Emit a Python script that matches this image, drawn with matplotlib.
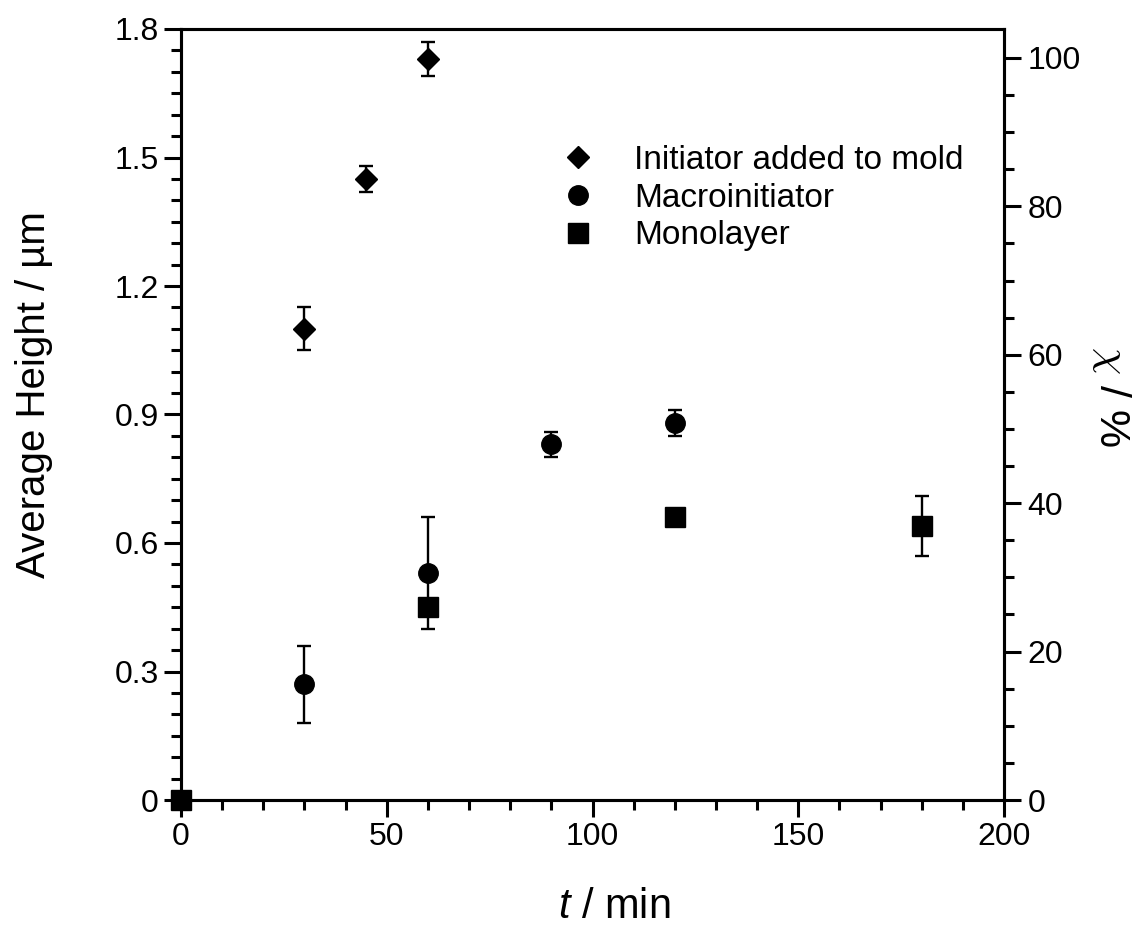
import matplotlib
matplotlib.use("Agg")
import matplotlib.pyplot as plt
from matplotlib.lines import Line2D
from matplotlib.ticker import MultipleLocator

plt.rcParams['font.family'] = ['Liberation Sans', 'DejaVu Sans']
plt.rcParams['mathtext.fontset'] = 'custom'
plt.rcParams['mathtext.it'] = 'Liberation Sans:italic'
plt.rcParams['mathtext.rm'] = 'Liberation Sans'

# Data
t_init = [30, 45, 60]
h_init = [1.10, 1.45, 1.73]
e_init = [0.05, 0.03, 0.04]

t_macro = [30, 60, 90, 120]
h_macro = [0.27, 0.53, 0.83, 0.88]
e_macro = [0.09, 0.13, 0.03, 0.03]

t_mono = [0, 60, 120, 180]
h_mono = [0.0, 0.45, 0.66, 0.64]
e_mono = [0.0, 0.02, 0.0, 0.07]

labels = ["Initiator added to mold", "Macroinitiator", "Monolayer"]

W, H = 1144, 932
fig = plt.figure(figsize=(W / 100, H / 100), dpi=100)
ax = fig.add_axes([181 / W, 1 - 800 / H, 823 / W, 771 / H])
ax2 = ax.twinx()

ekw = dict(fmt='none', ecolor='black', elinewidth=1.7, capsize=4.7, capthick=1.7, zorder=2, clip_on=False)
ax.errorbar(t_init, h_init, yerr=e_init, **ekw)
ax.errorbar(t_macro, h_macro, yerr=e_macro, **ekw)
ax.errorbar(t_mono, h_mono, yerr=e_mono, **ekw)

ax.plot(t_init, h_init, linestyle='none', marker='D', ms=11.5, color='black', zorder=3, clip_on=False)
ax.plot(t_macro, h_macro, linestyle='none', marker='o', ms=14, color='black', zorder=3, clip_on=False)
ax.plot(t_mono, h_mono, linestyle='none', marker='s', ms=14, color='black', zorder=3, clip_on=False)

ax.set_xlim(0, 200)
ax.set_ylim(0, 1.8)
ax2.set_ylim(0, 103.9)

ax.xaxis.set_major_locator(MultipleLocator(50))
ax.xaxis.set_minor_locator(MultipleLocator(10))
ax.yaxis.set_minor_locator(MultipleLocator(0.05))
ax2.yaxis.set_major_locator(MultipleLocator(20))
ax2.yaxis.set_minor_locator(MultipleLocator(5))

ax.set_yticks([0, 0.3, 0.6, 0.9, 1.2, 1.5, 1.8])
ax.set_yticklabels(["0", "0.3", "0.6", "0.9", "1.2", "1.5", "1.8"])

for a in (ax, ax2):
    for s in a.spines.values():
        s.set_linewidth(2.2)
ax.tick_params(axis='both', which='major', direction='out', length=12, width=2.2, labelsize=23, pad=4)
ax.tick_params(axis='both', which='minor', direction='out', length=7, width=2.2)
ax.tick_params(top=False, right=False, which='both')
ax2.tick_params(axis='y', which='major', direction='out', length=12, width=2.2, labelsize=23, pad=5)
ax2.tick_params(axis='y', which='minor', direction='out', length=7, width=2.2)

ax.set_xlabel("$t$ / min", fontsize=30)
ax.xaxis.set_label_coords((614 - 181) / 823, -0.113)
ax.set_ylabel("Average Height / µm", fontsize=29)
ax.yaxis.set_label_coords(-0.155, (800 - 395) / 771)
ax2.set_ylabel(r"$\chi$ / %", fontsize=31, rotation=270, va='bottom', math_fontfamily='cm')
ax2.yaxis.set_label_coords(1.105, (800 - 397) / 771)

handles = [
    Line2D([], [], linestyle='none', marker='D', ms=11.5, color='black'),
    Line2D([], [], linestyle='none', marker='o', ms=14, color='black'),
    Line2D([], [], linestyle='none', marker='s', ms=14, color='black'),
]
ax.legend(handles, labels, loc='upper left', bbox_to_anchor=(561.5 / W, 1 - 145 / H),
          bbox_transform=fig.transFigure, frameon=False, fontsize=24,
          handlelength=1.0, handletextpad=1.17, labelspacing=0.2, borderpad=0, borderaxespad=0)

fig.savefig("out.png", dpi=100)
